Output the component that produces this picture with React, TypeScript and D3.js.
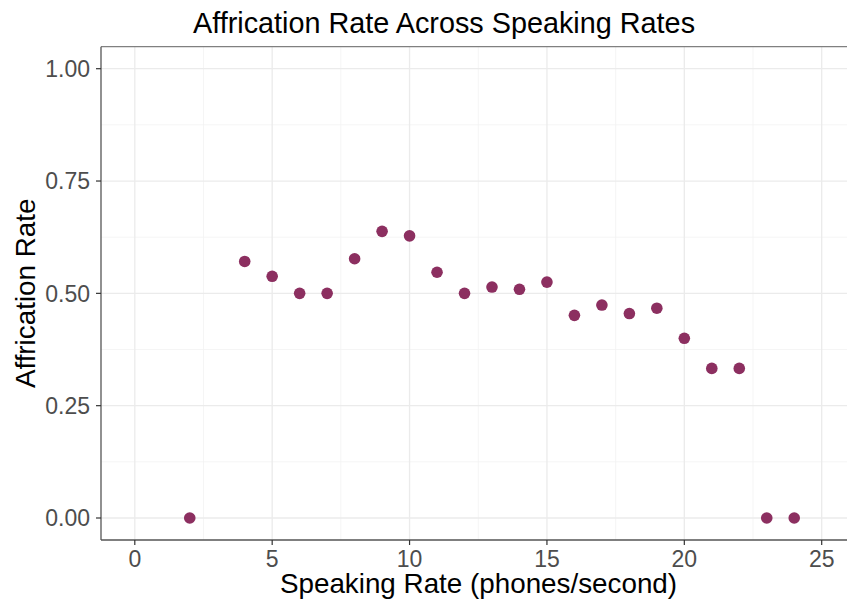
import React from "react";
import * as d3 from "d3";

const speakingRate = [2, 4, 5, 6, 7, 8, 9, 10, 11, 12, 13, 14, 15, 16, 17, 18, 19, 20, 21, 22, 23, 24];
const affricationRate = [0, 0.571, 0.538, 0.5, 0.5, 0.577, 0.638, 0.628, 0.547, 0.5, 0.514, 0.509, 0.525, 0.451, 0.474, 0.455, 0.467, 0.4, 0.333, 0.333, 0, 0];
const xTicks = [0, 5, 10, 15, 20, 25];
const xMinor = [2.5, 7.5, 12.5, 17.5, 22.5];
const yTicks = [0, 0.25, 0.5, 0.75, 1.0];
const yMinor = [0.125, 0.375, 0.625, 0.875];

const W = 847;
const H = 604;
const panel = { left: 101, right: 856, top: 46.7, bottom: 540 };
const FONT = "'Liberation Sans', Arial, Helvetica, sans-serif";

export default function App() {
  const x = d3.scaleLinear().domain([0, 25]).range([134.8, 821.7]);
  const y = d3.scaleLinear().domain([0, 1]).range([518, 68.7]);
  const pts = d3.zip(speakingRate, affricationRate) as [number, number][];

  return (
    <svg width={W} height={H} style={{ position: "absolute", left: 0, top: 0, background: "#fff" }} fontFamily={FONT}>
      <rect x={0} y={0} width={W} height={H} fill="#fff" />
      {/* minor grid */}
      {xMinor.map((t) => (
        <line key={"xm" + t} x1={x(t)} x2={x(t)} y1={panel.top} y2={panel.bottom} stroke="#f2f2f2" strokeWidth={0.8} />
      ))}
      {yMinor.map((t) => (
        <line key={"ym" + t} x1={panel.left} x2={panel.right} y1={y(t)} y2={y(t)} stroke="#f2f2f2" strokeWidth={0.8} />
      ))}
      {/* major grid */}
      {xTicks.map((t) => (
        <line key={"xg" + t} x1={x(t)} x2={x(t)} y1={panel.top} y2={panel.bottom} stroke="#ebebeb" strokeWidth={1.3} />
      ))}
      {yTicks.map((t) => (
        <line key={"yg" + t} x1={panel.left} x2={panel.right} y1={y(t)} y2={y(t)} stroke="#ebebeb" strokeWidth={1.3} />
      ))}
      {/* panel border */}
      <line x1={panel.left} x2={panel.right} y1={panel.top} y2={panel.top} stroke="#808080" strokeWidth={1.3} />
      {/* axes */}
      <line x1={panel.left} x2={panel.left} y1={panel.top} y2={panel.bottom} stroke="#555" strokeWidth={1.3} />
      <line x1={panel.left} x2={panel.right} y1={panel.bottom} y2={panel.bottom} stroke="#555" strokeWidth={1.3} />
      {/* points */}
      {pts.map(([a, b], i) => (
        <circle key={i} cx={x(a)} cy={y(b)} r={5.8} fill="#8c2f60" />
      ))}
      {/* y ticks */}
      {yTicks.map((t) => (
        <g key={"yt" + t}>
          <line x1={panel.left - 5} x2={panel.left} y1={y(t)} y2={y(t)} stroke="#333" strokeWidth={1.2} />
          <text x={90} y={y(t)} dy="0.36em" textAnchor="end" fontSize={23} fill="#4d4d4d">
            {d3.format(".2f")(t)}
          </text>
        </g>
      ))}
      {/* x ticks */}
      {xTicks.map((t) => (
        <g key={"xt" + t}>
          <line x1={x(t)} x2={x(t)} y1={panel.bottom} y2={panel.bottom + 5} stroke="#333" strokeWidth={1.2} />
          <text x={x(t)} y={567} textAnchor="middle" fontSize={23} fill="#4d4d4d">
            {String(t)}
          </text>
        </g>
      ))}
      {/* titles */}
      <text x={444} y={33} textAnchor="middle" fontSize={28.8} fill="#000">
        Affrication Rate Across Speaking Rates
      </text>
      <text x={478.5} y={593} textAnchor="middle" fontSize={27.8} fill="#000">
        Speaking Rate (phones/second)
      </text>
      <text transform={`translate(35, ${(panel.top + panel.bottom) / 2}) rotate(-90)`} textAnchor="middle" fontSize={27.8} fill="#000">
        Affrication Rate
      </text>
    </svg>
  );
}
